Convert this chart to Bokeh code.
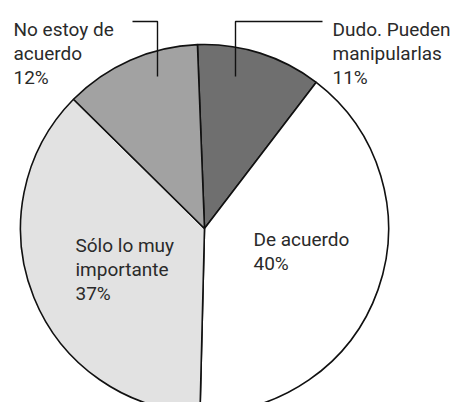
import math
from bokeh.plotting import figure
from bokeh.models import Range1d
from bokeh.core.properties import value
from bokeh.embed import file_html
from bokeh.resources import INLINE

# Data (clockwise from top)
categories = ["Dudo. Pueden manipularlas", "De acuerdo", "Sólo lo muy importante", "No estoy de acuerdo"]
label_lines = [["Dudo. Pueden", "manipularlas"], ["De acuerdo"], ["Sólo lo muy", "importante"], ["No estoy de", "acuerdo"]]
values = [11, 40, 37, 12]
colors = ["#6f6f6f", "#ffffff", "#e2e2e2", "#a2a2a2"]

W, H = 450, 402
IMG_H = 410

def Y(y):
    return IMG_H - y

p = figure(width=W, height=H, output_backend="svg", toolbar_location=None,
           x_range=Range1d(0, 450), y_range=Range1d(8, 410),
           min_border=0, outline_line_color=None)
p.axis.visible = False
p.grid.visible = False
p.background_fill_color = "white"
p.border_fill_color = "white"

cx, cy, r = 204, Y(228), 184
offset = 2.2  # degrees rotated counterclockwise from top
total = sum(values)
start = 90 + offset
starts, ends = [], []
for v in values:
    a = v / total * 360
    starts.append(math.radians(start))
    ends.append(math.radians(start - a))
    start -= a

p.wedge(x=cx, y=cy, radius=r, start_angle=starts, end_angle=ends, direction="clock",
        fill_color=colors, line_color="#111111", line_width=1.6)

font = value("Roboto")
txt_color = "#2a2a2a"
size = "19px"

# label positions (image px): left x, first baseline y
label_pos = [(332, 29), (253, 239), (75, 245), (13, 29)]
lh = 24
for lines, v, (lx, ly) in zip(label_lines, values, label_pos):
    all_lines = lines + [f"{v}%"]
    for i, t in enumerate(all_lines):
        p.text(x=[lx], y=[Y(ly + i * lh)], text=[t], text_font=font, text_font_size=size,
               text_color=txt_color, text_baseline="alphabetic", text_align="left")

# leader lines
p.line(x=[132, 157, 157], y=[Y(21), Y(21), Y(76)], line_color="#111111", line_width=1.4)
p.line(x=[322, 235, 235], y=[Y(21), Y(21), Y(76)], line_color="#111111", line_width=1.4)

open("out.html", "w").write(file_html(p, INLINE))
